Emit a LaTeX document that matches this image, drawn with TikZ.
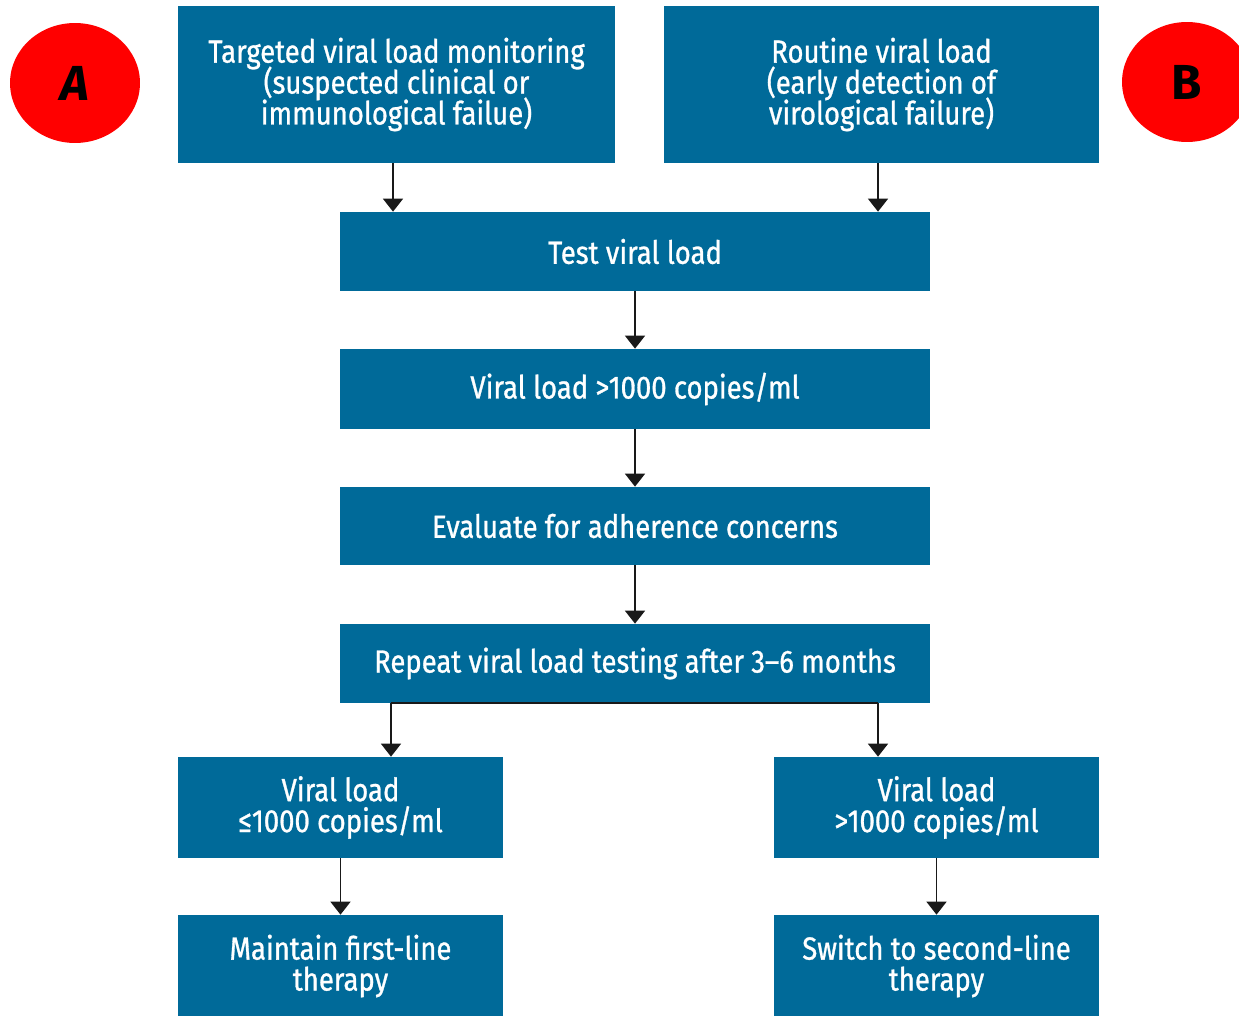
\documentclass[tikz,border=0pt]{standalone}
\usepackage{fontspec}
\setmainfont[FakeStretch=0.86, FakeBold=0.9]{Fira Sans}
\newfontfamily\badgefont{Fira Sans}
\usepackage{tikz}
\usetikzlibrary{arrows.meta, shapes.geometric}
\definecolor{boxblue}{RGB}{0, 106, 153}
\definecolor{markred}{RGB}{255, 0, 0}
\newcommand\tightlines{\lineskiplimit=-20pt\relax}

\begin{document}
\begin{tikzpicture}[x=0.02cm, y=-0.02cm,
    blk/.style={fill=boxblue, text=white, align=center, inner sep=0pt,
      font=\fontsize{18.2}{17.6}\selectfont\tightlines},
    badge/.style={ellipse, fill=markred, minimum width=2.6cm, minimum height=2.4cm,
      font=\badgefont\fontsize{28}{28}\selectfont\bfseries},
    arr/.style={-{Triangle[width=0.4cm, length=0.26cm]}, line width=0.85pt, black!90}]
  \useasboundingbox (0,0) rectangle (1239,1016);
  \fill[white] (0,0) rectangle (1239,1016);

  \node[badge] (ma) at (75,83) {\itshape A};
  \node[badge] (mb) at (1187,82) {B};

  \node[blk, minimum width=8.74cm, minimum height=3.14cm] (tl) at (396.5,84.5)
    {Targeted viral load monitoring\\(suspected clinical or\\immunological failue)};
  \node[blk, minimum width=8.70cm, minimum height=3.14cm] (tr) at (881.5,84.5)
    {Routine viral load\\(early detection of\\virological failure)};
  \node[blk, minimum width=11.8cm, minimum height=1.58cm] (test) at (635,251.5) {Test viral load};
  \node[blk, minimum width=11.8cm, minimum height=1.6cm] (vl) at (635,389) {Viral load >1000 copies/ml};
  \node[blk, minimum width=11.8cm, minimum height=1.56cm] (eval) at (635,526) {Evaluate for adherence concerns};
  \node[blk, minimum width=11.8cm, minimum height=1.58cm] (rep) at (635,663.5) {Repeat viral load testing after 3–6 months};
  \node[blk, minimum width=6.5cm, minimum height=2.02cm] (lo) at (340.5,807.5) {Viral load\\≤1000 copies/ml};
  \node[blk, minimum width=6.5cm, minimum height=2.02cm] (hi) at (936.5,807.5) {Viral load\\>1000 copies/ml};
  \node[blk, minimum width=6.5cm, minimum height=2.04cm] (keep) at (340.5,966) {Maintain first-line\\therapy};
  \node[blk, minimum width=6.5cm, minimum height=2.04cm] (swap) at (936.5,966) {Switch to second-line\\therapy};

  \coordinate (tla) at ([xshift=-0.07cm]tl.south);
  \coordinate (tra) at ([xshift=-0.07cm]tr.south);
  \coordinate (jl) at (391,703);
  \coordinate (jr) at (878,703);

  \draw[arr] (tla) -- (tla |- test.north);
  \draw[arr] (tra) -- (tra |- test.north);
  \draw[arr] (test) -- (vl);
  \draw[arr] (vl) -- (eval);
  \draw[arr] (eval) -- (rep);
  \draw[line width=0.85pt, black!90] (jl) -- (jr);
  \draw[arr] (jl) -- (jl |- lo.north);
  \draw[arr] (jr) -- (jr |- hi.north);
  \draw[arr] (lo) -- (keep);
  \draw[arr] (hi) -- (swap);
\end{tikzpicture}
\end{document}
